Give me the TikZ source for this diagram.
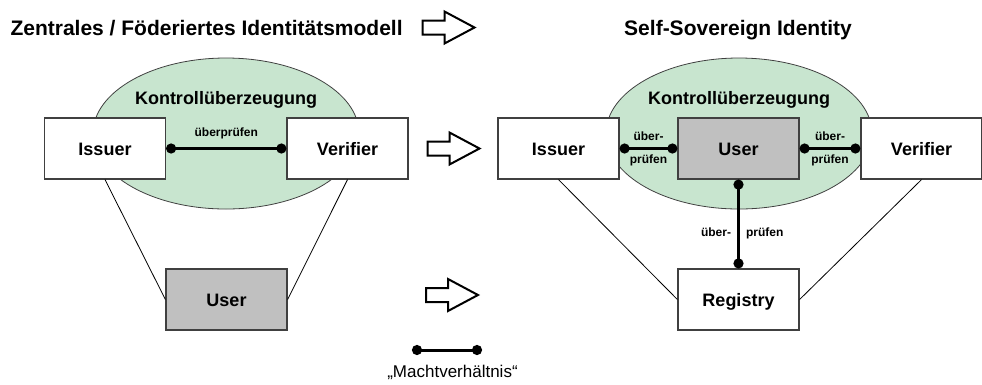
\documentclass[tikz,border=0pt]{standalone}
\usepackage{fontspec}
\setmainfont{Liberation Sans}
\usetikzlibrary{arrows.meta,shapes.geometric}
\definecolor{ctrlgreen}{RGB}{200,229,207}
\definecolor{usergray}{RGB}{192,192,192}
\definecolor{boxline}{RGB}{64,64,64}
\begin{document}
\begin{tikzpicture}[x=1pt,y=-1pt,
  box/.style={draw=boxline, line width=1.2pt, fill=white, minimum width=121pt, minimum height=61pt, inner sep=0pt, text height=13pt, text depth=0pt, font=\fontsize{18}{20}\selectfont\bfseries},
  userbox/.style={box, fill=usergray},
  ctrl/.style={ellipse, draw=boxline, line width=0.8pt, fill=ctrlgreen, minimum width=266pt, minimum height=151pt, inner sep=0pt},
  power/.style={line width=3pt, {Circle[length=10pt]}-{Circle[length=10pt]}},
  lbl/.style={font=\fontsize{12}{14}\selectfont\bfseries, inner sep=0pt, text height=9pt, text depth=2.5pt},
  spoke/.style={line width=0.8pt},
  hollow/.style={draw, line width=2pt, fill=white, line join=miter},
  heading/.style={font=\fontsize{21}{24}\selectfont\bfseries}]
\useasboundingbox (0,0) rectangle (982,384);
\node [heading, anchor=base west] (titleL) at (7,35) {Zentrales / Föderiertes Identitätsmodell};
\node [heading, anchor=base] (titleR) at (738,35) {Self-Sovereign Identity};
\node [ctrl] (ctrlL) at (226,133.5) {};
\node [ctrl] (ctrlR) at (739,133.5) {};
\node [anchor=base, font=\fontsize{18}{20}\selectfont\bfseries] (kontrL) at (226,104) {Kontrollüberzeugung};
\node [anchor=base, font=\fontsize{18}{20}\selectfont\bfseries] (kontrR) at (739,104) {Kontrollüberzeugung};
\node [box] (issL) at (105,148.5) {Issuer};
\node [box] (verL) at (347.5,148.5) {Verifier};
\node [userbox] (userL) at (226.5,299.5) {User};
\draw [spoke] (issL.south) -- (userL.west);
\draw [spoke] (verL.south) -- (userL.east);
\draw [power] (issL.east) -- (verL.west) node [lbl, midway, above=8pt] {überprüfen};
\node [box] (issR) at (558.5,148.5) {Issuer};
\node [userbox] (userR) at (738.5,148.5) {User};
\node [box] (verR) at (921.5,148.5) {Verifier};
\node [box] (reg) at (738.5,299.5) {Registry};
\draw [spoke] (issR.south) -- (reg.west);
\draw [spoke] (verR.south) -- (reg.east);
\draw [power] (issR.east) -- (userR.west) node [lbl, midway, above=4pt] {über-} node [lbl, midway, below=4.5pt] {prüfen};
\draw [power] (userR.east) -- (verR.west) node [lbl, midway, above=4pt] {über-} node [lbl, midway, below=4.5pt] {prüfen};
\draw [power] (userR.south) -- (reg.north) node [lbl, pos=0.6, left=6pt] {über-} node [lbl, pos=0.6, right=6pt] {prüfen};
\foreach \ax/\ay in {448.5/27.5, 453.5/148.5, 452/295}
  \draw [hollow, shift={(\ax,\ay)}] (-26,-7) -- (-4,-7) -- (-4,-16) -- (26,0) -- (-4,16) -- (-4,7) -- (-26,7) -- cycle;
\coordinate (legA) at (412,350);
\coordinate (legB) at (482,350);
\draw [power] (legA) -- (legB);
\node [anchor=base, font=\fontsize{17}{20}\selectfont] (legend) at (452.5,377) {„Machtverhältnis“};
\end{tikzpicture}
\end{document}
